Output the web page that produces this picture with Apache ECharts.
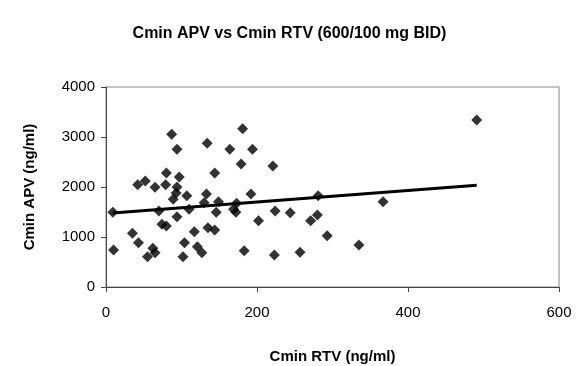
<!DOCTYPE html>
<html><head><meta charset="utf-8">
<script src="https://cdn.jsdelivr.net/npm/echarts@6/dist/echarts.min.js"></script>
<style>html,body{margin:0;padding:0;background:#fff}#c{width:579px;height:366px}</style>
</head><body><div id="c"></div>
<script>
const rtv = [87,94,134,181,164,194,179,144,80,97,42,52,65,79,94,93,89,107,133,130,149,173,192,169,172,146,110,94,70,9,202,74,80,35,43,117,135,144,104,121,127,62,65,55,102,183,10,281,367,224,244,271,280,293,335,223,257,221,491];
const apv = [3054,2754,2873,3167,2754,2754,2460,2280,2280,2200,2047,2120,1993,2047,2000,1880,1753,1827,1860,1687,1707,1673,1860,1553,1493,1493,1553,1407,1520,1493,1327,1253,1220,1073,887,1107,1187,1140,887,807,687,773,687,607,607,727,740,1827,1707,1520,1487,1327,1440,1027,840,640,693,2420,3340];
const trendX = [9, 491];
const trendY = [1480, 2035];
const xTicks = [0, 200, 400, 600];
const yTicks = [0, 1000, 2000, 3000, 4000];

const pts = rtv.map((x,i)=>[x, apv[i]]);
const line = trendX.map((x,i)=>[x, trendY[i]]);
const F = 'Liberation Sans, Arial, sans-serif';
const chart = echarts.init(document.getElementById('c'), null, {renderer:'canvas'});
chart.setOption({
  animation:false,
  backgroundColor:'#fff',
  title:{text:'Cmin APV vs Cmin RTV (600/100 mg BID)', left:'center', top:21,
    textStyle:{fontFamily:F, fontSize:16, fontWeight:'bold', color:'#000'}},
  grid:{left:106, right:20, top:87, bottom:79, show:true, borderColor:'#888', borderWidth:1,
    containLabel:false, outerBoundsMode:'none'},
  xAxis:{type:'value', min:xTicks[0], max:xTicks[xTicks.length-1], interval:200,
    name:'Cmin RTV (ng/ml)', nameLocation:'middle', nameGap:62,
    nameTextStyle:{fontFamily:F, fontSize:15, fontWeight:'bold', color:'#000'},
    axisLine:{lineStyle:{color:'#444', width:1}},
    axisTick:{show:true, inside:false, length:5, lineStyle:{color:'#444'}},
    axisLabel:{fontFamily:F, fontSize:15, color:'#000', margin:18, formatter:v=>String(v)},
    splitLine:{show:false}},
  yAxis:{type:'value', min:yTicks[0], max:yTicks[yTicks.length-1], interval:1000,
    name:'Cmin APV (ng/ml)', nameLocation:'middle', nameGap:69, nameRotate:90,
    nameTextStyle:{fontFamily:F, fontSize:15, fontWeight:'bold', color:'#000'},
    axisLine:{show:true, lineStyle:{color:'#444', width:1}},
    axisTick:{show:true, inside:false, length:5, lineStyle:{color:'#444'}},
    axisLabel:{fontFamily:F, fontSize:15, color:'#000', margin:11, formatter:v=>String(v)},
    splitLine:{show:false}},
  series:[
    {type:'scatter', data:pts, symbol:'diamond', symbolSize:11, itemStyle:{color:'#000'}, z:3},
    {type:'line', data:line, symbol:'none', lineStyle:{color:'#000', width:3}, z:2}
  ]
});
</script></body></html>
